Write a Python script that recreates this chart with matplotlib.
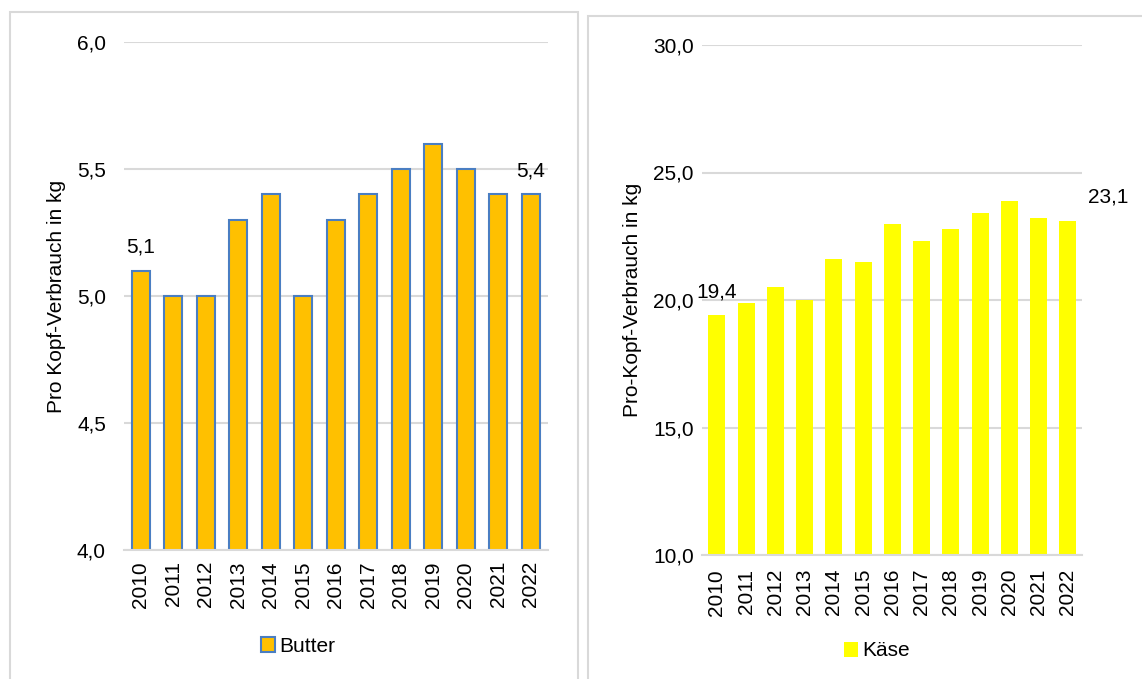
#! /usr/bin/env python3
import matplotlib
matplotlib.use("Agg")
import matplotlib.pyplot as plt
from matplotlib.patches import Rectangle
from matplotlib.ticker import FuncFormatter

plt.rcParams['font.family'] = ['Liberation Sans', 'DejaVu Sans']

years = ['2010', '2011', '2012', '2013', '2014', '2015', '2016',
         '2017', '2018', '2019', '2020', '2021', '2022']
butter = [5.1, 5.0, 5.0, 5.3, 5.4, 5.0, 5.3, 5.4, 5.5, 5.6, 5.5, 5.4, 5.4]
kaese = [19.4, 19.9, 20.5, 20.0, 21.6, 21.5, 23.0, 22.3, 22.8, 23.4, 23.9, 23.2, 23.1]

W, H = 1142, 679
GRID = '#D9D9D9'
FS = 15

fig = plt.figure(figsize=(W / 100, H / 100), dpi=100)


def px_axes(x0, x1, y_top, y_bot):
    return fig.add_axes([x0 / W, 1 - y_bot / H, (x1 - x0) / W, (y_bot - y_top) / H])


def comma(v, pos):
    return '{:.1f}'.format(v).replace('.', ',')


def style(ax, ylim, step, ypad, xpad):
    ax.set_ylim(*ylim)
    ax.set_yticks([ylim[0] + i * step for i in range(int(round((ylim[1] - ylim[0]) / step)) + 1)])
    ax.yaxis.set_major_formatter(FuncFormatter(comma))
    ax.grid(axis='y', color=GRID, linewidth=1.5)
    ax.set_axisbelow(True)
    for s in ['top', 'right', 'left']:
        ax.spines[s].set_visible(False)
    ax.spines['bottom'].set_color(GRID)
    ax.spines['bottom'].set_linewidth(1.5)
    ax.tick_params(axis='both', length=0, labelsize=FS, colors='black')
    ax.tick_params(axis='y', pad=ypad)
    ax.tick_params(axis='x', pad=xpad, labelrotation=90)


# panel frames
fig.add_artist(Rectangle((10 / W, -0.05), 568 / W, 1.05 - 12 / H,
                         transform=fig.transFigure, fill=False,
                         edgecolor=GRID, linewidth=1.5))
fig.add_artist(Rectangle((588 / W, -0.05), 600 / W, 1.05 - 16 / H,
                         transform=fig.transFigure, fill=False,
                         edgecolor=GRID, linewidth=1.5))

# Butter
ax1 = px_axes(124, 548, 42, 550)
x = range(len(years))
ax1.bar(x, butter, width=0.55, color='#FFC000', edgecolor='#4A7EC2',
        linewidth=1.5, label='Butter')
ax1.set_xticks(list(x))
ax1.set_xticklabels(years)
ax1.set_xlim(-0.52, 12.53)
style(ax1, (4.0, 6.0), 0.5, 13, 8)
for i in (0, len(years) - 1):
    ax1.annotate(comma(butter[i], 0), (i, butter[i]), xytext=(0, 17),
                 textcoords='offset points', ha='center', va='center', fontsize=FS)
fig.text(57 / W, 1 - 296 / H, 'Pro Kopf-Verbrauch in kg', rotation=90,
         ha='center', va='center', fontsize=FS)
ax1.legend(loc='center', bbox_to_anchor=(298 / W, 1 - 646 / H),
           bbox_transform=fig.transFigure, frameon=False, fontsize=FS,
           handlelength=0.7, handleheight=0.7, handletextpad=0.2)

# Kaese
ax2 = px_axes(702, 1082, 45, 555)
ax2.bar(x, kaese, width=0.58, color='#FFFF00', label='Käse')
ax2.set_xticks(list(x))
ax2.set_xticklabels(years)
ax2.set_xlim(-0.51, 12.48)
style(ax2, (10.0, 30.0), 5.0, 6, 10)
ax2.annotate(comma(kaese[0], 0), (0, kaese[0]), xytext=(0, 17),
             textcoords='offset points', ha='center', va='center', fontsize=FS)
ax2.annotate(comma(kaese[-1], 0), (12, kaese[-1]), xytext=(29, 17),
             textcoords='offset points', ha='center', va='center', fontsize=FS)
fig.text(633 / W, 1 - 300 / H, 'Pro-Kopf-Verbrauch in kg', rotation=90,
         ha='center', va='center', fontsize=FS)
ax2.legend(loc='center', bbox_to_anchor=(877 / W, 1 - 651 / H),
           bbox_transform=fig.transFigure, frameon=False, fontsize=FS,
           handlelength=0.7, handleheight=0.7, handletextpad=0.2)

fig.savefig('out.png', dpi=100)
